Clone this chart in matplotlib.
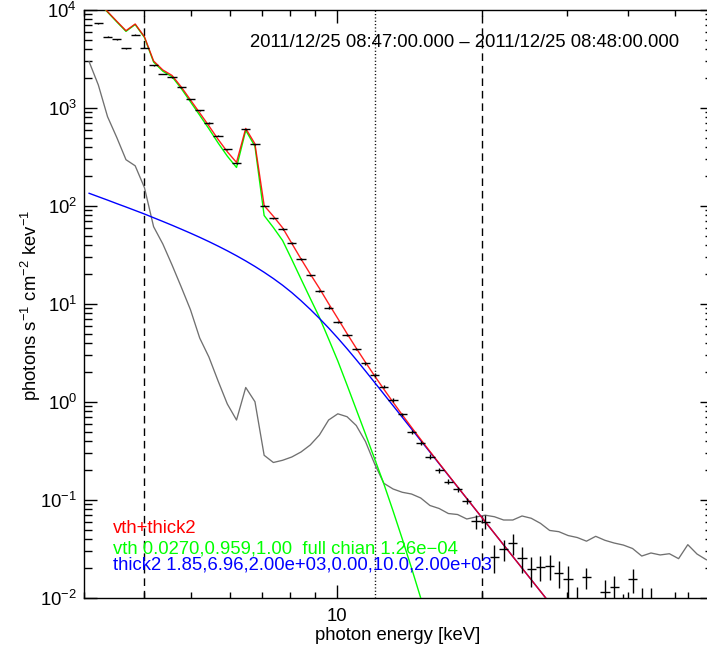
import numpy as np
import matplotlib
matplotlib.use("Agg")
import matplotlib.pyplot as plt
from matplotlib.ticker import FixedLocator, NullFormatter, FixedFormatter

plt.rcParams['font.family'] = ['Liberation Sans', 'DejaVu Sans']
plt.rcParams['mathtext.fontset'] = 'custom'
plt.rcParams['mathtext.rm'] = 'Liberation Sans'
plt.rcParams['mathtext.it'] = 'Liberation Sans:italic'
plt.rcParams['mathtext.bf'] = 'Liberation Sans:bold'

# photon energy bin centres (keV), bins k = -6 .. 62
energy = [3.074, 3.212, 3.356, 3.507, 3.664, 3.828, 4.000, 4.179, 4.367, 4.563,
          4.767, 4.981, 5.205, 5.438, 5.682, 5.937, 6.203, 6.481, 6.772, 7.075,
          7.393, 7.724, 8.071, 8.433, 8.811, 9.205, 9.618, 10.049, 10.500, 10.971,
          11.463, 11.977, 12.514, 13.075, 13.661, 14.274, 14.914, 15.583, 16.281, 17.011,
          17.774, 18.571, 19.404, 20.274, 21.183, 22.133, 23.125, 24.162, 25.246, 26.378,
          27.560, 28.796, 30.088, 31.437, 32.846, 34.319, 35.858, 37.466, 39.146, 40.901,
          42.735, 44.651, 46.653, 48.745, 50.931, 53.215, 55.601, 58.094, 60.699]
bin_half_dex = 0.009525

nan = float('nan')
# observed photon flux (photons s^-1 cm^-2 keV^-1)
flux = [nan, 7317, 5340, 5023, 4076, 5598, 4143, 2715, 2223, 2057,
        1627, 1227, 949.7, 703, 521.6, 379.8, 272.7, 607.6, 424.2, 100.5,
        74.9, 58.25, 42.22, 28.92, 19.54, 13.49, 9.21, 6.55, 4.83, 3.474,
        2.483, 1.886, 1.439, 1.048, 0.749, 0.500, 0.3816, 0.2765, 0.200, 0.1537,
        0.128, 0.0973, 0.0611, 0.0601, 0.0264, 0.0316, 0.0362, 0.0254, 0.0196, 0.0209,
        0.0212, 0.0181, 0.0156, 0.0072, 0.0163, 0.0045, 0.0114, 0.0130, 0.0070, 0.0155,
        0.0080, 0.0080, 0.0040, 0.0035, 0.0040, 0.0070, 0.0035, nan, nan]
flux_err = [nan, 60, 50, 48, 42, 50, 40, 28, 24, 22,
            18, 14, 11, 8.5, 6.5, 5.0, 3.8, 6.5, 5.0, 1.6,
            1.3, 1.05, 0.82, 0.6, 0.44, 0.33, 0.25, 0.19, 0.15, 0.12,
            0.095, 0.08, 0.065, 0.04, 0.032, 0.023, 0.019, 0.015, 0.011, 0.0085,
            0.0075, 0.0065, 0.010, 0.0095, 0.0085, 0.0078, 0.0086, 0.0075, 0.0068, 0.006,
            0.006, 0.0055, 0.0058, 0.0057, 0.004, 0.0035, 0.0038, 0.0037, 0.0041, 0.0043,
            0.0046, 0.0046, 0.003, 0.003, 0.003, 0.0046, 0.003, nan, nan]

# vth model
vth = [15025, 11966, 9518, 7563, 6053, 7106, 5259, 2942, 2374, 2085,
       1582, 1156, 844, 614, 440, 322.6, 247.2, 591.5, 406.2, 80.0,
       60.34, 44.46, 28.45, 17.99, 11.43, 7.317, 4.395, 2.62, 1.491, 0.8385,
       0.4716, 0.262, 0.1457, 0.0772, 0.040, 0.02024, 0.010, 0.00483, 0.002276, 0.001048,
       4.5e-4, 1.8e-4, 7e-5, 2.6e-5, 9e-6, 3e-6, 1e-6, 3e-7, 1e-7, 3e-8,
       1e-8, 3e-9, 1e-9, 3e-10, 1e-10, 3e-11, 1e-11, 3e-12, 1e-12, 3e-13,
       1e-13, 3e-14, 1e-14, 3e-15, 1e-15, 3e-16, 1e-16, 3e-17, 1e-17]
# thick2 model
thick2 = [134.8, 124.4, 114.9, 105.8, 97.7, 90.0, 82.9, 75.94, 69.56, 63.63,
          58.04, 52.84, 47.93, 43.32, 38.97, 34.90, 31.08, 27.50, 24.16, 21.06,
          18.19, 15.54, 13.07, 10.81, 8.831, 7.132, 5.690, 4.487, 3.499, 2.702,
          2.072, 1.581, 1.204, 0.9167, 0.6979, 0.5315, 0.4047, 0.3082, 0.2347, 0.1786,
          0.1360, 0.1036, 0.07885, 0.06005, 0.04572, 0.03481, 0.02651, 0.02019, 0.01537, 0.0117,
          0.00891, 0.00678, 0.00517, 0.00393, 0.00300, 0.00228, 0.00174, 0.00132, 0.00101, 7.7e-4,
          5.8e-4, 4.45e-4, 3.4e-4, 2.6e-4, 1.97e-4, 1.5e-4, 1.14e-4, 8.7e-5, 6.6e-5]
# background
background = [2968, 1717, 815.3, 500, 296.8, 257.2, 154.5, 61.5, 40.95, 25.0,
              14.91, 8.745, 4.499, 2.879, 1.638, 0.954, 0.655, 1.406, 1.007, 0.2859,
              0.2414, 0.2542, 0.2747, 0.309, 0.364, 0.4605, 0.655, 0.7578, 0.7079, 0.5757,
              0.3953, 0.2330, 0.148, 0.1295, 0.1199, 0.1151, 0.1048, 0.0879, 0.0819, 0.0728,
              0.0711, 0.064, 0.0671, 0.070, 0.0675, 0.0625, 0.0625, 0.0687, 0.0651, 0.0578,
              0.0489, 0.0475, 0.0434, 0.0414, 0.038, 0.0426, 0.0388, 0.0364, 0.0347, 0.032,
              0.0268, 0.0288, 0.0275, 0.0283, 0.0252, 0.035, 0.0281, 0.0246, 0.0233]

x_major = [10]
x_major_labels = ['10']
x_minor = [3, 4, 5, 6, 7, 8, 9, 20, 30, 40, 50]
y_decades = [-2, -1, 0, 1, 2, 3, 4]

title_text = "2011/12/25 08:47:00.000 \u2013 2011/12/25 08:48:00.000"
legend_lines = [("vth+thick2", "#ff0000"),
                ("vth 0.0270,0.959,1.00  full chian 1.26e\u221204", "#00ff00"),
                ("thick2 1.85,6.96,2.00e+03,0.00,10.0,2.00e+03", "#0000ff")]

E = np.array(energy)
F = np.array(flux)
Ferr = np.array(flux_err)
g = np.array(vth)
b = np.array(thick2)
total = g + b
bk = np.array(background)

W, H = 707, 654
fig = plt.figure(figsize=(W / 100, H / 100), dpi=100)
ax = fig.add_axes([84 / W, 1 - 598 / H, (713 - 84) / W, (598 - 10) / H])
ax.set_xscale('log')
ax.set_yscale('log')
ax.set_xlim(3, 60)
ax.set_ylim(1e-2, 1e4)

ax.plot(E, bk, color='#707070', lw=0.95, zorder=2)
ax.plot(E, g, color='#00ff00', lw=1.0, zorder=3)
ax.plot(E, b, color='#0000ff', lw=1.0, zorder=3)
ax.plot(E, total, color='#ff0000', lw=1.0, alpha=0.88, zorder=4)

xlo = E - E * 10 ** (-bin_half_dex)
xhi = E * 10 ** (bin_half_dex) - E
ax.errorbar(E, F, xerr=[xlo, xhi], yerr=Ferr, fmt='none', ecolor='black',
            elinewidth=1.0, capsize=0, zorder=5)

ax.axvline(4, color='black', lw=1.0, ls=(0, (5.5, 3.5)), zorder=1)
ax.axvline(20, color='black', lw=1.0, ls=(0, (5.5, 3.5)), zorder=1)
ax.axvline(12, color='black', lw=1.0, ls=(0, (0.8, 1.6)), zorder=1)

# ticks
ax.xaxis.set_major_locator(FixedLocator(x_major))
ax.xaxis.set_major_formatter(FixedFormatter(x_major_labels))
ax.xaxis.set_minor_locator(FixedLocator(x_minor))
ax.xaxis.set_minor_formatter(NullFormatter())
ymaj = [10.0 ** d for d in y_decades]
ax.yaxis.set_major_locator(FixedLocator(ymaj))
ax.yaxis.set_major_formatter(FixedFormatter(
    ['$\\mathregular{10^{%s}}$' % (str(d).replace('-', '\u2212')) for d in y_decades]))
ymin = [m * 10.0 ** d for d in y_decades[:-1] for m in range(2, 10)]
ax.yaxis.set_minor_locator(FixedLocator(ymin))
ax.yaxis.set_minor_formatter(NullFormatter())
ax.tick_params(which='both', direction='in', top=True, right=True, width=1.0, colors='black')
ax.tick_params(axis='x', which='major', length=9.4, pad=7, labelsize=13.3)
ax.tick_params(axis='x', which='minor', length=4.3)
ax.tick_params(axis='y', which='major', length=9.1, pad=5, labelsize=13.3)
ax.tick_params(axis='y', which='minor', length=5.5)
for s in ax.spines.values():
    s.set_linewidth(1.0)

fig.text(250 / W, 1 - 46.7 / H, title_text, fontsize=13.3, ha='left', va='baseline')
fig.text(398 / W, 1 - 636 / H, "photon energy [keV]", fontsize=13.3, ha='center', va='center')
fig.text(31 / W, 1 - 305 / H, "photons s$^{-1}$ cm$^{-2}$ kev$^{-1}$", fontsize=13.3,
         rotation=90, ha='center', va='center')
for (txt, col), yb in zip(legend_lines, [533.3, 553.0, 570.0]):
    fig.text(113 / W, 1 - yb / H, txt, fontsize=13.3, color=col, ha='left', va='baseline')

fig.savefig('out.png', dpi=100)
